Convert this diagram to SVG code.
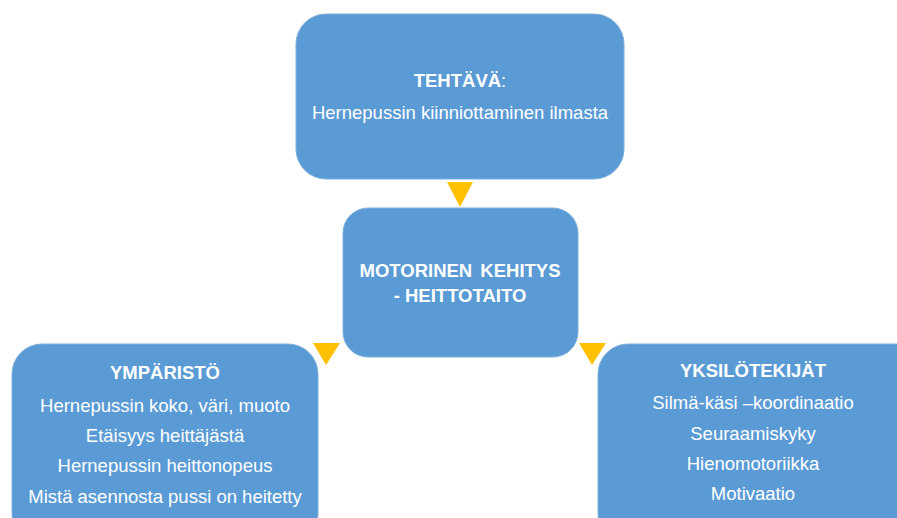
<svg xmlns="http://www.w3.org/2000/svg" width="897" height="518" viewBox="0 0 897 518">
<style>
.box{fill:#5B9BD5;stroke:#7FB0DE;stroke-width:1}
.arr{fill:#FFC000}
text{font-family:"Liberation Sans",Arial,sans-serif;fill:#FFFFFF;text-anchor:middle}
.b{font-weight:bold;font-size:18.5px}
.t{font-size:18.5px}
</style>
<rect width="897" height="518" fill="#FFFFFF"/>
<g id="connectors">
<polygon class="arr" points="447,182 473,182 460,207"/>
<polygon class="arr" points="313,343 340,343 326,365"/>
<polygon class="arr" points="579,343 606,343 592,365"/>
</g>
<g id="tehtava">
<rect class="box" x="296" y="14" width="328" height="165" rx="30" ry="30"/>
<text class="b" x="460" y="87">TEHTÄVÄ<tspan font-weight="normal">:</tspan></text>
<text class="t" x="460" y="119">Hernepussin kiinniottaminen ilmasta</text>
</g>
<g id="motorinen">
<rect class="box" x="343" y="208" width="235" height="149" rx="25" ry="25"/>
<text class="b" x="460" y="277" word-spacing="3">MOTORINEN KEHITYS</text>
<text class="b" x="460" y="302">- HEITTOTAITO</text>
</g>
<g id="ymparisto">
<rect class="box" x="12" y="344" width="306" height="200" rx="30" ry="30"/>
<text class="b" x="165" y="379">YMPÄRISTÖ</text>
<text class="t" x="165" y="412">Hernepussin koko, väri, muoto</text>
<text class="t" x="165" y="442">Etäisyys heittäjästä</text>
<text class="t" x="165" y="472">Hernepussin heittonopeus</text>
<text class="t" x="165" y="503">Mistä asennosta pussi on heitetty</text>
</g>
<g id="yksilotekijat">
<rect class="box" x="598" y="344" width="330" height="200" rx="30" ry="30"/>
<text class="b" x="753" y="377">YKSILÖTEKIJÄT</text>
<text class="t" x="753" y="409">Silmä-käsi –koordinaatio</text>
<text class="t" x="753" y="440">Seuraamiskyky</text>
<text class="t" x="753" y="470">Hienomotoriikka</text>
<text class="t" x="753" y="500">Motivaatio</text>
</g>
</svg>
